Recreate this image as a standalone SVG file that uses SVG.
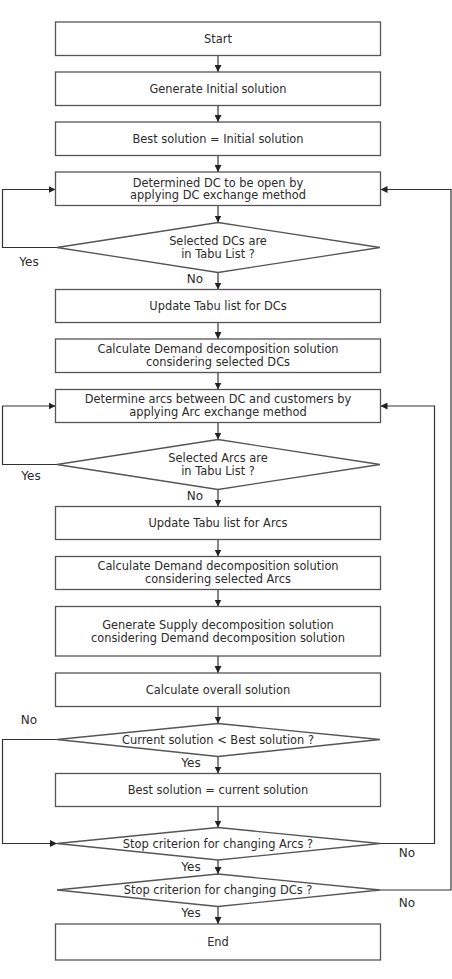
<svg xmlns="http://www.w3.org/2000/svg" width="452" height="979" viewBox="0 0 452 979">
<defs>
<style>
.box{fill:#fff;stroke:#555;stroke-width:1.3}
.t{font-family:"DejaVu Sans",Verdana,sans-serif;font-size:11.4px;fill:#2b2b2b;text-anchor:middle}
.lbl{font-family:"DejaVu Sans",Verdana,sans-serif;font-size:12px;fill:#2b2b2b;text-anchor:middle}
.c{fill:none;stroke:#333;stroke-width:1.2}
</style>
<marker id="ah" markerUnits="userSpaceOnUse" markerWidth="7" markerHeight="7" refX="7" refY="3.5" orient="auto">
<path d="M0,0 L7,3.5 L0,7 z" fill="#222"/>
</marker>
</defs>
<rect width="452" height="979" fill="#fff"/>

<g id="connectors">
<path class="c" d="M218,55.5 V72" marker-end="url(#ah)"/>
<path class="c" d="M218,105.5 V122" marker-end="url(#ah)"/>
<path class="c" d="M218,155.5 V172" marker-end="url(#ah)"/>
<path class="c" d="M218,205.5 V222.5" marker-end="url(#ah)"/>
<path class="c" d="M218,272.5 V289.5" marker-end="url(#ah)"/>
<path class="c" d="M218,322.5 V339" marker-end="url(#ah)"/>
<path class="c" d="M218,372.5 V389.5" marker-end="url(#ah)"/>
<path class="c" d="M218,422.5 V439.5" marker-end="url(#ah)"/>
<path class="c" d="M218,489.5 V506.5" marker-end="url(#ah)"/>
<path class="c" d="M218,539.5 V556.5" marker-end="url(#ah)"/>
<path class="c" d="M218,589.5 V606.5" marker-end="url(#ah)"/>
<path class="c" d="M218,656 V673" marker-end="url(#ah)"/>
<path class="c" d="M218,706.5 V723.5" marker-end="url(#ah)"/>
<path class="c" d="M218,756.5 V773.5" marker-end="url(#ah)"/>
<path class="c" d="M218,806.5 V827.5" marker-end="url(#ah)"/>
<path class="c" d="M218,860 V874" marker-end="url(#ah)"/>
<path class="c" d="M218,906.5 V924" marker-end="url(#ah)"/>
<path class="c" d="M57,247.5 H2.5 V189.5 H55.5" marker-end="url(#ah)"/>
<path class="c" d="M379.5,890 H451 V189.5 H380.5" marker-end="url(#ah)"/>
<path class="c" d="M57,464.5 H2.5 V406 H55.5" marker-end="url(#ah)"/>
<path class="c" d="M379.5,843.5 H434.5 V406 H380.5" marker-end="url(#ah)"/>
<path class="c" d="M57,739.5 H2.5 V843.5 H57" marker-end="url(#ah)"/>
<text class="lbl" x="29" y="266">Yes</text>
<text class="lbl" x="195" y="283">No</text>
<text class="lbl" x="31" y="480">Yes</text>
<text class="lbl" x="195" y="500">No</text>
<text class="lbl" x="29" y="724">No</text>
<text class="lbl" x="191" y="767">Yes</text>
<text class="lbl" x="407" y="857">No</text>
<text class="lbl" x="191" y="871">Yes</text>
<text class="lbl" x="407" y="907">No</text>
<text class="lbl" x="191" y="917">Yes</text>
</g>

<g id="start"><rect class="box" x="55.5" y="22" width="325" height="33.5"/><text class="t" x="218" y="42.5">Start</text></g>
<g id="generate-initial"><rect class="box" x="55.5" y="72" width="325" height="33.5"/><text class="t" x="218" y="92.5">Generate Initial solution</text></g>
<g id="best-initial"><rect class="box" x="55.5" y="122" width="325" height="33.5"/><text class="t" x="218" y="142.5">Best solution = Initial solution</text></g>
<g id="determine-dc"><rect class="box" x="55.5" y="172" width="325" height="33.5"/><text class="t" x="218" y="186.5">Determined DC to be open by</text><text class="t" x="218" y="199.3">applying DC exchange method</text></g>
<g id="dc-tabu"><polygon class="box" points="218,222.5 380,247.5 218,272.5 57,247.5"/><text class="t" x="218" y="244.7">Selected DCs are</text><text class="t" x="218" y="257.5">in Tabu List ?</text></g>
<g id="update-dc"><rect class="box" x="55.5" y="289.5" width="325" height="33"/><text class="t" x="218" y="310">Update Tabu list for DCs</text></g>
<g id="calc-demand-dc"><rect class="box" x="55.5" y="339" width="325" height="33.5"/><text class="t" x="218" y="353.3">Calculate Demand decomposition solution</text><text class="t" x="218" y="366.1">considering selected DCs</text></g>
<g id="determine-arcs"><rect class="box" x="55.5" y="389.5" width="325" height="33"/><text class="t" x="218" y="403">Determine arcs between DC and customers by</text><text class="t" x="218" y="415.8">applying Arc exchange method</text></g>
<g id="arc-tabu"><polygon class="box" points="218,439.5 380,464.5 218,489.5 57,464.5"/><text class="t" x="218" y="461.5">Selected Arcs are</text><text class="t" x="218" y="474.5">in Tabu List ?</text></g>
<g id="update-arcs"><rect class="box" x="55.5" y="506.5" width="325" height="33"/><text class="t" x="218" y="526.5">Update Tabu list for Arcs</text></g>
<g id="calc-demand-arcs"><rect class="box" x="55.5" y="556.5" width="325" height="33"/><text class="t" x="218" y="570.3">Calculate Demand decomposition solution</text><text class="t" x="218" y="583.1">considering selected Arcs</text></g>
<g id="generate-supply"><rect class="box" x="55.5" y="606.5" width="325" height="49.5"/><text class="t" x="218" y="628.8">Generate Supply decomposition solution</text><text class="t" x="218" y="641.6">considering Demand decomposition solution</text></g>
<g id="calc-overall"><rect class="box" x="55.5" y="673" width="325" height="33.5"/><text class="t" x="218" y="693.5">Calculate overall solution</text></g>
<g id="compare"><polygon class="box" points="218,723.5 380,739.5 218,756.5 57,739.5"/><text class="t" x="218" y="743.5">Current solution &lt; Best solution ?</text></g>
<g id="best-current"><rect class="box" x="55.5" y="773.5" width="325" height="33"/><text class="t" x="218" y="793.5">Best solution = current solution</text></g>
<g id="stop-arcs"><polygon class="box" points="218,827.5 380,843.5 218,860 57,843.5"/><text class="t" x="218" y="847.5">Stop criterion for changing Arcs ?</text></g>
<g id="stop-dcs"><polygon class="box" points="218,874 380,890 218,906.5 57,890"/><text class="t" x="218" y="894">Stop criterion for changing DCs ?</text></g>
<g id="end"><rect class="box" x="55.5" y="924" width="325" height="36"/><text class="t" x="218" y="945.5">End</text></g>
</svg>
